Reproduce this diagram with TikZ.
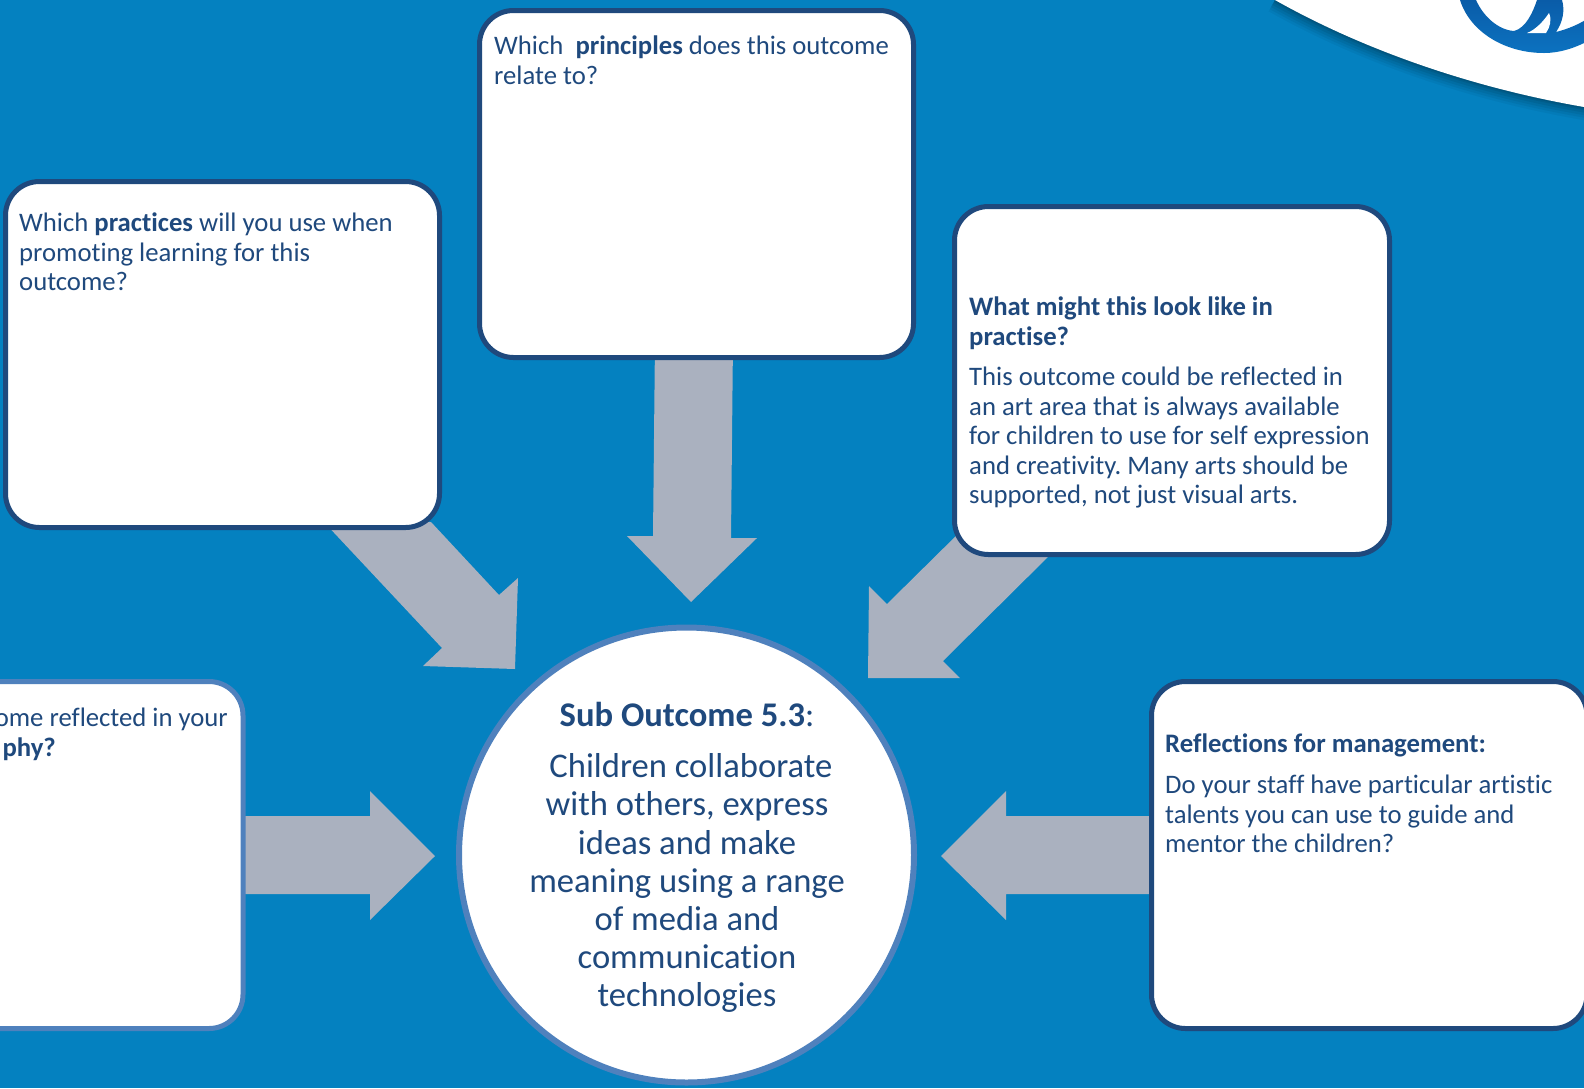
\documentclass[tikz,border=0pt]{standalone}
\usepackage{fontspec}
\setmainfont[Ligatures=NoCommon]{Carlito}
\frenchspacing
\definecolor{bgblue}{HTML}{0481C0}
\definecolor{navy}{HTML}{1F497D}
\definecolor{midblue}{HTML}{4F81BD}
\definecolor{arrowgrey}{HTML}{AAB1BF}
\definecolor{logotop}{HTML}{0A5CA8}
\definecolor{logobottom}{HTML}{0C72C0}
\tikzset{
  x=1pt,y=-1pt,
  qbox/.style={draw=navy,line width=5pt,fill=white,rounded corners=34pt},
  softbox/.style={qbox,draw=midblue},
  blockarrow/.style={fill=arrowgrey,draw=none},
  bodytext/.style={anchor=north west,align=left,text=navy,font=\fontsize{26.7}{29.5}\selectfont,inner sep=0pt},
}
\begin{document}
\begin{tikzpicture}
\useasboundingbox (0,0) rectangle (1584,1088);
\clip (0,0) rectangle (1584,1088);
\fill[bgblue] (0,0) rectangle (1584,1088);
% swoosh with soft shadow
\foreach \w/\o in {26/.04,21/.05,16/.06,11/.07,6/.08,3/.09}{
  \draw[black,opacity=\o,line width=\w pt] (1275,0) .. controls (1360,48) and (1470,88) .. (1590,108);
}
\fill[white] (1275,0) .. controls (1360,48) and (1470,88) .. (1590,108) -- (1590,-5) -- (1275,-5) -- cycle;
% logo
\shade[top color=logotop,bottom color=logobottom] (1460,0) .. controls (1470,32) and (1505,53) .. (1544,53)
  .. controls (1560,53) and (1575,48) .. (1590,40) -- (1590,17)
  .. controls (1580,24) and (1568,29) .. (1556,32)
  .. controls (1563,22) and (1565,10) .. (1562,0) -- (1537,0)
  .. controls (1533,12) and (1526,28) .. (1514,31)
  .. controls (1498,30) and (1483,16) .. (1476,0) -- cycle;
\fill[white] (1527,33) .. controls (1535,30) and (1543,22) .. (1549,13)
  .. controls (1552,20) and (1550,27) .. (1546,33) -- cycle;
% block arrows
\fill[blockarrow] (655,340) -- (733,340) -- (731,538) -- (757,538) -- (691,602) -- (627,536) -- (653,536) -- cycle;
\fill[blockarrow] (323,521) -- (431,522) -- (499,595) -- (518,578) -- (515,669) -- (423,666) -- (442,648) -- cycle;
\fill[blockarrow] (965,527) -- (1060,545) -- (943,661) -- (960,678) -- (868,678) -- (869,586) -- (887,604) -- cycle;
\fill[blockarrow] (240,816) -- (370,816) -- (370,791) -- (435,856) -- (370,920) -- (370,894) -- (240,894) -- cycle;
\fill[blockarrow] (1155,816) -- (1006,816) -- (1006,791) -- (941,856) -- (1006,920) -- (1006,894) -- (1155,894) -- cycle;
% question boxes
\draw[qbox] (479.5,10.5) rectangle (913.5,357.5) node[pos=.5,inner sep=0pt] (principles) {};
\draw[qbox] (5.5,181.5) rectangle (439.5,527.5) node[pos=.5,inner sep=0pt] (practices) {};
\draw[qbox] (954.5,206.5) rectangle (1389.5,554.5) node[pos=.5,inner sep=0pt] (lookslike) {};
\draw[qbox] (1151.5,681.5) rectangle (1587,1028.5) node[pos=.5,inner sep=0pt] (management) {};
\draw[softbox] (-200,681.5) rectangle (243,1028.5) node[pos=.5,inner sep=0pt] (philosophy) {};
% circle
\node[circle,draw=midblue,line width=6pt,fill=white,minimum size=455pt,inner sep=0pt] (centre) at (686.5,855) {};
% text
\node[bodytext] (t1) at (494,36) {Which\ \ \textbf{principles} does this outcome\\relate to?};
\node[bodytext] (t2) at (19,213) {Which \textbf{practices} will you use when\\promoting learning for this\\outcome?};
\node[bodytext] (t3a) at (969,297) {\textbf{What might this look like in}\\\textbf{practise?}};
\node[bodytext] (t3b) at (969,367) {This outcome could be reflected in\\an art area that is always available\\for children to use for self expression\\and creativity. Many arts should be\\supported, not just visual arts.};
\node[bodytext] (t4a) at (1165,734) {\textbf{Reflections for management:}};
\node[bodytext] (t4b) at (1165,775) {Do your staff have particular artistic\\talents you can use to guide and\\mentor the children?};
\node[bodytext,anchor=north east] (t5a) at (228,708) {ome reflected in your};
\node[bodytext,anchor=north east] (t5b) at (56,738) {\textbf{phy?}};
\node[anchor=center,text=navy,font=\fontsize{34.6}{38}\selectfont] (title) at (687,714) {\textbf{Sub Outcome 5.3}:};
\node[anchor=north,align=center,text=navy,font=\fontsize{34.6}{38.2}\selectfont,inner sep=0pt] (body) at (687,753.5) {\ Children collaborate\\with others, express\\ideas and make\\meaning using a range\\of media and\\communication\\technologies};
\end{tikzpicture}
\end{document}
